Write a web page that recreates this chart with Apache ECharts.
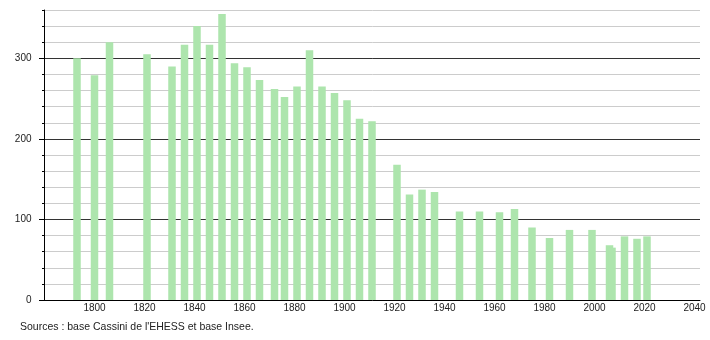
<!DOCTYPE html>
<html>
<head>
<meta charset="utf-8">
<script src="https://cdn.jsdelivr.net/npm/echarts@6/dist/echarts.min.js"></script>
<style>
html,body{margin:0;padding:0;background:#fff;}
#c{width:710px;height:340px;}
</style>
</head>
<body>
<div id="c"></div>
<script>
var years = [1793,1800,1806,1821,1831,1836,1841,1846,1851,1856,1861,1866,1872,1876,1881,1886,1891,1896,1901,1906,1911,1921,1926,1931,1936,1946,1954,1962,1968,1975,1982,1990,1999,2006,2007,2012,2017,2021];
var population = [300,279,320,305,290,317,340,317,355,294,289,273,262,252,265,310,265,257,248,225,222,168,131,137,134,110,110,109,113,90,77,87,87,68,65,79,76,79];
var xTickLabels = [1800,1820,1840,1860,1880,1900,1920,1940,1960,1980,2000,2020,2040];
var yTickLabels = [0,100,200,300];
var sourceText = "Sources : base Cassini de l'EHESS et base Insee.";

var data = years.map(function(y,i){ return [y, population[i]]; });
var font = 'Liberation Sans, Arial, sans-serif';
var chart = echarts.init(document.getElementById('c'), null, {renderer:'canvas'});
chart.setOption({
  animation:false,
  backgroundColor:'#ffffff',
  grid:{left:44.5, right:10, top:10, bottom:40, containLabel:false},
  xAxis:{
    type:'value', min:1780, max:2042.2, interval:20,
    axisLine:{show:true, lineStyle:{color:'#000', width:1}},
    axisTick:{show:false},
    splitLine:{show:false},
    axisLabel:{showMinLabel:false, showMaxLabel:false, color:'#222', fontSize:10, fontFamily:font, margin:3,
      formatter:function(v){ return xTickLabels.indexOf(v) >= 0 ? String(v) : ''; }}
  },
  yAxis:[{
    type:'value', min:0, max:360, interval:20, position:'left',
    axisLine:{show:true, lineStyle:{color:'#000', width:1}},
    axisTick:{show:true, length:2.5, inside:false, lineStyle:{color:'#000'}},
    splitLine:{show:true, showMinLine:false, lineStyle:{color:'#cccccc', width:1}},
    axisLabel:{color:'#222', fontSize:10, fontFamily:font, margin:13,
      formatter:function(v){ return yTickLabels.indexOf(v) >= 0 ? String(v) : ''; }}
  },{
    type:'value', min:0, max:360, interval:100, position:'right',
    axisLine:{show:false}, axisTick:{show:false}, axisLabel:{show:false},
    splitLine:{show:true, showMinLine:false, showMaxLine:false, lineStyle:{color:'#333333', width:1}}
  },{
    type:'value', min:0, max:360, interval:100, position:'left', offset:0,
    axisLine:{show:false}, axisLabel:{show:false}, splitLine:{show:false},
    axisTick:{show:true, length:5.5, inside:false, lineStyle:{color:'#000'},
      customValues:[0,100,200,300]}
  }],
  series:[{
    type:'bar', data:data, barWidth:7.5, yAxisIndex:0,
    itemStyle:{color:'#ade5ad'}
  }],
  graphic:[{
    type:'text', left:20, top:322,
    style:{text:sourceText, fill:'#222', font:'10.5px '+font}
  }]
});
</script>
</body>
</html>
